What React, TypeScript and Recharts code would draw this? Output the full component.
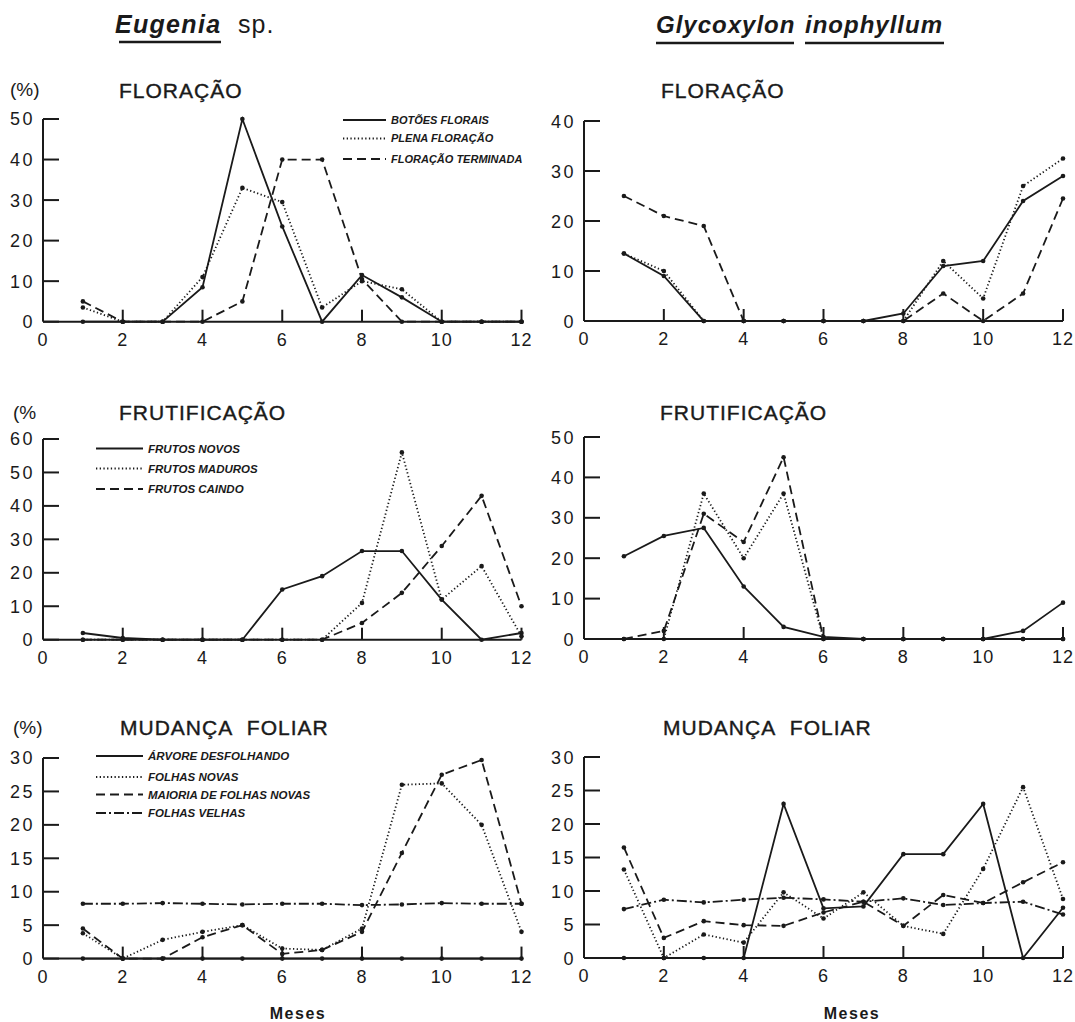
import { Line, LineChart, XAxis, YAxis } from 'recharts'

const INK = '#1a1a1a'
const FONT = '"Liberation Sans", Arial, sans-serif'

const months = [1, 2, 3, 4, 5, 6, 7, 8, 9, 10, 11, 12]
const xTicks = [0, 2, 4, 6, 8, 10, 12]

// Eugenia sp. - floração
const eugBotoes = [0, 0, 0, 8.5, 50, 23.5, 0, 11.5, 6, 0, 0, 0]
const eugPlena = [3.5, 0, 0, 11, 33, 29.5, 3.5, 10, 8, 0, 0, 0]
const eugTerminada = [5, 0, 0, 0, 5, 40, 40, 10.5, 0, 0, 0, 0]

// Glycoxylon inophyllum - floração
const glyBotoes = [13.5, 9, 0, 0, 0, 0, 0, 1.5, 11, 12, 24, 29]
const glyPlena = [13.5, 10, 0, 0, 0, 0, 0, 0, 12, 4.5, 27, 32.5]
const glyTerminada = [25, 21, 19, 0, 0, 0, 0, 0, 5.5, 0, 5.5, 24.5]

// Eugenia sp. - frutificação
const eugNovos = [2, 0.5, 0, 0, 0, 15, 19, 26.5, 26.5, 12, 0, 2]
const eugMaduros = [0, 0, 0, 0, 0, 0, 0, 11, 56, 12, 22, 1]
const eugCaindo = [0, 0, 0, 0, 0, 0, 0, 5, 14, 28, 43, 10]

// Glycoxylon inophyllum - frutificação
const glyNovos = [20.5, 25.5, 27.5, 13, 3, 0.5, 0, 0, 0, 0, 2, 9]
const glyMaduros = [0, 0, 36, 20, 36, 0, 0, 0, 0, 0, 0, 0]
const glyCaindo = [0, 2, 31, 24, 45, 0, 0, 0, 0, 0, 0, 0]

// Eugenia sp. - mudança foliar
const eugDesfolhando = [0, 0, 0, 0, 0, 0, 0, 0, 0, 0, 0, 0]
const eugFolhasNovas = [3.8, 0, 2.8, 4, 5, 1.5, 1.3, 4.5, 26, 26.2, 20, 4]
const eugMaioria = [4.5, 0, 0, 3.2, 5, 0.7, 1.3, 4, 15.8, 27.5, 29.7, 8.2]
const eugVelhas = [8.2, 8.2, 8.3, 8.2, 8.1, 8.2, 8.2, 8.0, 8.1, 8.3, 8.2, 8.2]

// Glycoxylon inophyllum - mudança foliar
const glyDesfolhando = [0, 0, 0, 0, 23, 7.4, 7.7, 15.5, 15.5, 23, 0, 7.5]
const glyFolhasNovas = [13.2, 0, 3.5, 2.3, 9.8, 5.9, 9.8, 4.8, 3.6, 13.3, 25.5, 8.8]
const glyMaioria = [16.5, 3, 5.5, 4.9, 4.8, 6.8, 8.4, 4.8, 9.4, 8.2, 11.3, 14.3]
const glyVelhas = [7.3, 8.7, 8.3, 8.7, 9, 8.75, 8.4, 8.9, 7.9, 8.2, 8.4, 6.5]

const STYLES = {
  solid: undefined,
  dotted: '1.3 2.4',
  dashed: '9 5',
  dashdot: '10 3 2 3',
} as const

type StyleKey = keyof typeof STYLES

type Panel = {
  left: number
  right: number
  top: number
  bottom: number
  max: number
  step: number
  series: { values: number[]; style: StyleKey }[]
}

const panels: Panel[] = [
  {
    left: 42.5, right: 521, top: 119.3, bottom: 322, max: 50, step: 10,
    series: [
      { values: eugBotoes, style: 'solid' },
      { values: eugPlena, style: 'dotted' },
      { values: eugTerminada, style: 'dashed' },
    ],
  },
  {
    left: 584, right: 1063, top: 120.7, bottom: 320.7, max: 40, step: 10,
    series: [
      { values: glyBotoes, style: 'solid' },
      { values: glyPlena, style: 'dotted' },
      { values: glyTerminada, style: 'dashed' },
    ],
  },
  {
    left: 42.5, right: 521, top: 439.3, bottom: 640, max: 60, step: 10,
    series: [
      { values: eugNovos, style: 'solid' },
      { values: eugMaduros, style: 'dotted' },
      { values: eugCaindo, style: 'dashed' },
    ],
  },
  {
    left: 584, right: 1063, top: 437.3, bottom: 639.3, max: 50, step: 10,
    series: [
      { values: glyNovos, style: 'solid' },
      { values: glyMaduros, style: 'dotted' },
      { values: glyCaindo, style: 'dashed' },
    ],
  },
  {
    left: 42.5, right: 521, top: 757.7, bottom: 958.3, max: 30, step: 5,
    series: [
      { values: eugDesfolhando, style: 'solid' },
      { values: eugFolhasNovas, style: 'dotted' },
      { values: eugMaioria, style: 'dashed' },
      { values: eugVelhas, style: 'dashdot' },
    ],
  },
  {
    left: 584, right: 1063, top: 756.7, bottom: 957.7, max: 30, step: 5,
    series: [
      { values: glyDesfolhando, style: 'solid' },
      { values: glyFolhasNovas, style: 'dotted' },
      { values: glyMaioria, style: 'dashed' },
      { values: glyVelhas, style: 'dashdot' },
    ],
  },
]

const YTick = (props: any) => {
  const { x, y, payload } = props
  return (
    <g>
      <line x1={x} x2={x + 16} y1={y} y2={y} stroke={INK} strokeWidth={2} />
      <text x={x - 8} y={y} dy={6.5} textAnchor='end' fontSize={18} letterSpacing={2.5}
        fontFamily={FONT} fill={INK}>
        {payload.value}
      </text>
    </g>
  )
}

const XTick = (props: any) => {
  const { x, y, payload } = props
  return (
    <g>
      {payload.value !== 0 && (
        <line x1={x} x2={x} y1={y} y2={y - 12} stroke={INK} strokeWidth={2} />
      )}
      <text x={x} y={y} dy={24} textAnchor='middle' fontSize={18} letterSpacing={1}
        fontFamily={FONT} fill={INK}>
        {payload.value}
      </text>
    </g>
  )
}

const Y_W = 45
const X_H = 40
const PAD = 10

function PanelChart({ p }: { p: Panel }) {
  const data = months.map((m, i) => {
    const row: Record<string, number> = { m }
    p.series.forEach((s, j) => { row['s' + j] = s.values[i] })
    return row
  })
  const yTicks: number[] = []
  for (let v = 0; v <= p.max; v += p.step) yTicks.push(v)
  const w = Y_W + (p.right - p.left) + PAD
  const h = PAD + (p.bottom - p.top) + X_H
  return (
    <div style={{ position: 'absolute', left: p.left - Y_W, top: p.top - PAD }}>
      <LineChart width={w} height={h} data={data}
        margin={{ top: PAD, right: PAD, bottom: 0, left: 0 }}>
        <XAxis type='number' dataKey='m' domain={[0, 12]} ticks={xTicks} interval={0}
          height={X_H} tickSize={0} tickMargin={0} tick={<XTick />}
          axisLine={{ stroke: INK, strokeWidth: 2 }} />
        <YAxis type='number' domain={[0, p.max]} ticks={yTicks} interval={0}
          width={Y_W} tickSize={0} tickMargin={0} tick={<YTick />}
          axisLine={{ stroke: INK, strokeWidth: 2 }} />
        {p.series.map((s, j) => (
          <Line key={j} type='linear' dataKey={'s' + j} stroke={INK} strokeWidth={1.8}
            strokeDasharray={STYLES[s.style]}
            dot={{ r: 2.3, fill: INK, stroke: INK, strokeWidth: 0 }}
            isAnimationActive={false} />
        ))}
      </LineChart>
    </div>
  )
}

const legendFlor = ['BOTÕES FLORAIS', 'PLENA FLORAÇÃO', 'FLORAÇÃO TERMINADA']
const legendFrut = ['FRUTOS NOVOS', 'FRUTOS MADUROS', 'FRUTOS CAINDO']
const legendFolh = ['ÁRVORE DESFOLHANDO', 'FOLHAS NOVAS', 'MAIORIA DE FOLHAS NOVAS', 'FOLHAS VELHAS']
const legendStyles: StyleKey[] = ['solid', 'dotted', 'dashed', 'dashdot']

function Legend({ x, lineW, rows, labels, size }: { x: number; lineW: number; rows: number[]; labels: string[]; size: number }) {
  return (
    <g>
      {labels.map((t, i) => (
        <g key={t}>
          <line x1={x} x2={x + lineW} y1={rows[i]} y2={rows[i]} stroke={INK} strokeWidth={1.8}
            strokeDasharray={STYLES[legendStyles[i]]} />
          <text x={x + lineW + 5} y={rows[i] + size * 0.36} fontSize={size} fontStyle='italic'
            fontWeight='bold' fontFamily={FONT} fill={INK}>
            {t}
          </text>
        </g>
      ))}
    </g>
  )
}

function Title({ x, y, children }: { x: number; y: number; children: string }) {
  return (
    <text x={x} y={y} fontSize={21} letterSpacing={1} wordSpacing={8} fontFamily={FONT}
      fill={INK} stroke={INK} strokeWidth={0.4}>
      {children}
    </text>
  )
}

export default function App() {
  return (
    <div style={{ position: 'absolute', left: 0, top: 0, width: 1075, height: 1022, background: '#fff' }}>
      <svg width={1075} height={1022} style={{ position: 'absolute', left: 0, top: 0 }}>
        {/* species headers */}
        <text x={115} y={33} fontSize={25} fontWeight='bold' fontStyle='italic' letterSpacing={1.3}
          fontFamily={FONT} fill={INK}>Eugenia</text>
        <line x1={119} x2={221} y1={42} y2={42} stroke={INK} strokeWidth={2.5} />
        <text x={238} y={33} fontSize={25} letterSpacing={1} fontFamily={FONT} fill={INK}>sp.</text>

        <text x={656} y={33} fontSize={24} fontWeight='bold' fontStyle='italic' letterSpacing={1}
          fontFamily={FONT} fill={INK}>Glycoxylon</text>
        <line x1={656} x2={794} y1={43} y2={43} stroke={INK} strokeWidth={2.5} />
        <text x={805} y={33} fontSize={24} fontWeight='bold' fontStyle='italic' letterSpacing={1}
          fontFamily={FONT} fill={INK}>inophyllum</text>
        <line x1={805} x2={944} y1={43} y2={43} stroke={INK} strokeWidth={2.5} />

        {/* unit labels */}
        <text x={10} y={96} fontSize={19} fontFamily={FONT} fill={INK}>(%)</text>
        <text x={13} y={419} fontSize={19} fontFamily={FONT} fill={INK}>(%</text>
        <text x={13} y={734} fontSize={19} fontFamily={FONT} fill={INK}>(%)</text>

        {/* panel titles */}
        <Title x={119} y={98}>FLORAÇÃO</Title>
        <Title x={661} y={98}>FLORAÇÃO</Title>
        <Title x={119} y={420}>FRUTIFICAÇÃO</Title>
        <Title x={660} y={420}>FRUTIFICAÇÃO</Title>
        <Title x={120} y={735}>MUDANÇA FOLIAR</Title>
        <Title x={663} y={735}>MUDANÇA FOLIAR</Title>

        <Legend x={343} lineW={43} rows={[120, 138.5, 159]} labels={legendFlor} size={11} />
        <Legend x={96} lineW={47} rows={[448.5, 468.5, 489]} labels={legendFrut} size={11.5} />
        <Legend x={96} lineW={47} rows={[756, 777, 794.5, 813]} labels={legendFolh} size={11.5} />

        <text x={298} y={1019} textAnchor='middle' fontSize={16} fontWeight='bold' letterSpacing={1.5}
          fontFamily={FONT} fill={INK}>Meses</text>
        <text x={852} y={1019} textAnchor='middle' fontSize={16} fontWeight='bold' letterSpacing={1.5}
          fontFamily={FONT} fill={INK}>Meses</text>
      </svg>
      {panels.map((p, i) => (
        <PanelChart key={i} p={p} />
      ))}
    </div>
  )
}
